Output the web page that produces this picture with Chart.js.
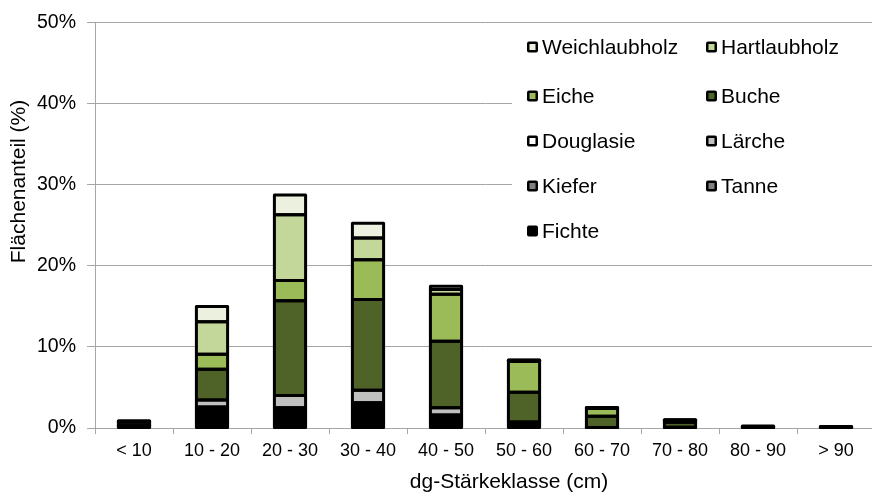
<!DOCTYPE html>
<html><head><meta charset="utf-8">
<script src="https://cdn.jsdelivr.net/npm/chart.js@4/dist/chart.umd.min.js"></script>
<style>
html,body{margin:0;padding:0;overflow:hidden;background:#fff;width:872px;height:499px}
#wrap{position:absolute;left:0;top:0;width:880px;height:499px}
</style>
</head><body><div id="wrap"><canvas id="c" width="880" height="499"></canvas></div>
<script>
// ---- data (percent of area) ----
const categories = ['< 10','10 - 20','20 - 30','30 - 40','40 - 50','50 - 60','60 - 70','70 - 80','80 - 90','> 90'];
const fichte        = [0.30, 2.60, 2.50, 3.10, 1.60, 0.50, 0.05, 0.10, 0.05, 0.05];
const tanne         = [0, 0, 0, 0, 0, 0, 0, 0, 0, 0];
const kiefer        = [0, 0, 0, 0, 0, 0, 0, 0, 0, 0];
const laerche       = [0.05, 0.85, 1.50, 1.55, 0.90, 0.25, 0, 0, 0, 0];
const douglasie     = [0, 0, 0, 0, 0, 0, 0, 0, 0, 0];
const buche         = [0.40, 3.80, 11.70, 11.20, 8.20, 3.65, 1.40, 0.60, 0.15, 0.10];
const eiche         = [0.05, 1.85, 2.50, 4.90, 5.80, 3.80, 0.95, 0.25, 0.05, 0.05];
const hartlaubholz  = [0.05, 4.00, 8.10, 2.70, 0.60, 0.15, 0.10, 0.05, 0, 0];
const weichlaubholz = [0.02, 1.90, 2.45, 1.80, 0.40, 0.05, 0.02, 0.02, 0, 0];
const seriesNames  = ['Fichte','Tanne','Kiefer','Lärche','Douglasie','Buche','Eiche','Hartlaubholz','Weichlaubholz'];
const seriesValues = [fichte, tanne, kiefer, laerche, douglasie, buche, eiche, hartlaubholz, weichlaubholz];
const seriesColors = ['#000000','#808080','#808080','#c0c0c0','#ffffff','#4f6228','#9bbb59','#c4d79b','#ebf1de'];
const yMin = 0, yMax = 50, yStep = 10;
const xTitle = 'dg-Stärkeklasse (cm)';
const yTitle = 'Flächenanteil (%)';

const FONT = "'Liberation Sans', Arial, sans-serif";
const GRID = '#a6a6a6';

const datasets = seriesNames.map((n, i) => ({
  label: n,
  data: seriesValues[i],
  backgroundColor: seriesColors[i],
  borderWidth: 0,
  inflateAmount: 0
}));

const extras = {
  id: 'extras',
  afterDatasetsDraw(chart) {
    const ctx = chart.ctx;
    ctx.save();
    // Excel-style centred black outline around every bar segment
    ctx.strokeStyle = '#000';
    ctx.lineWidth = 3;
    ctx.lineJoin = 'round';
    chart.data.datasets.forEach((d, di) => {
      const meta = chart.getDatasetMeta(di);
      meta.data.forEach(el => {
        const p = el.getProps(['x', 'y', 'base', 'width'], true);
        const h = Math.abs(p.base - p.y);
        if (h < 0.05) return;
        ctx.strokeRect(p.x - p.width / 2, Math.min(p.y, p.base), p.width, h);
      });
    });
    // legend background (hides grid lines behind it)
    ctx.fillStyle = '#ffffff';
    ctx.fillRect(512, 24, 400, 228);
    // legend: reverse order, two columns
    const items = datasets.slice().reverse();
    const colX = [527, 706];
    const rowY = [47, 96, 141, 186, 231];
    ctx.font = '21px ' + FONT;
    ctx.textBaseline = 'middle';
    ctx.textAlign = 'left';
    items.forEach((d, i) => {
      const x = colX[i % 2], y = rowY[Math.floor(i / 2)];
      const s = 11;
      ctx.fillStyle = '#000';
      ctx.beginPath();
      if (ctx.roundRect) ctx.roundRect(x, y - s / 2, s, s, 2); else ctx.rect(x, y - s / 2, s, s);
      ctx.fill();
      ctx.fillStyle = d.backgroundColor;
      ctx.fillRect(x + 2.5, y - s / 2 + 2.5, s - 5, s - 5);
      ctx.fillStyle = '#000';
      ctx.fillText(d.label, x + 15, y + 1);
    });
    // axis titles
    ctx.font = '21px ' + FONT;
    ctx.textAlign = 'center';
    ctx.fillText(xTitle, 509, 482);
    ctx.translate(19, 181.5);
    ctx.rotate(-Math.PI / 2);
    ctx.fillText(yTitle, 0, 0);
    ctx.restore();
  }
};

new Chart(document.getElementById('c'), {
  type: 'bar',
  data: { labels: categories, datasets },
  options: {
    responsive: false,
    animation: false,
    devicePixelRatio: 1,
    layout: { padding: { top: 15, right: 5, left: 0, bottom: 0 } },
    plugins: { legend: { display: false }, tooltip: { enabled: false } },
    datasets: { bar: { categoryPercentage: 1.0, barPercentage: 0.40 } },
    scales: {
      x: {
        stacked: true,
        grid: { display: true, drawOnChartArea: false, drawTicks: true, tickLength: 6, color: GRID, offset: true },
        border: { display: true, color: GRID, width: 1 },
        ticks: { color: '#000', font: { family: FONT, size: 18 }, padding: 6, maxRotation: 0, autoSkip: false },
        afterFit(s) { s.height = 71; }
      },
      y: {
        stacked: true,
        min: yMin, max: yMax,
        grid: { color: GRID, tickLength: 8, drawTicks: true },
        border: { display: true, color: GRID, width: 1 },
        ticks: { stepSize: yStep, color: '#000', font: { family: FONT, size: 19.5 }, padding: 11,
                 callback: v => v + '%' },
        afterFit(s) { s.width = 95; }
      }
    }
  },
  plugins: [extras]
});
</script>
</body></html>
